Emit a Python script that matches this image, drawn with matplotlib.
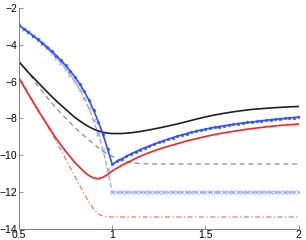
import numpy as np
import matplotlib
matplotlib.use("Agg")
import matplotlib.pyplot as plt

plt.rcParams["font.family"] = ["Liberation Sans", "DejaVu Sans"]

# coarse grid for the unmarked curves
X_COARSE = [0.5, 0.55, 0.6, 0.65, 0.7, 0.75, 0.8, 0.85, 0.875, 0.9, 0.925, 0.95, 0.975,
            1.0, 1.05, 1.1, 1.15, 1.2, 1.25, 1.3, 1.35, 1.4, 1.45, 1.5, 1.55, 1.6,
            1.65, 1.7, 1.75, 1.8, 1.85, 1.9, 1.95, 2.0]

BLACK = [-4.92, -5.50, -6.02, -6.55, -7.05, -7.50, -7.95, -8.30, -8.45, -8.58, -8.68, -8.75, -8.80,
         -8.82, -8.82, -8.78, -8.71, -8.62, -8.52, -8.41, -8.30, -8.17, -8.04, -7.92, -7.81, -7.72,
         -7.64, -7.57, -7.51, -7.47, -7.43, -7.40, -7.37, -7.35]

GRAY = [-4.92, -5.50, -6.20, -6.85, -7.45, -7.98, -8.50, -8.95, -9.17, -9.38, -9.58, -9.78, -9.93,
        -10.05, -10.30, -10.40, -10.45, -10.47, -10.47, -10.47, -10.47, -10.47, -10.47, -10.47,
        -10.47, -10.47, -10.47, -10.47, -10.47, -10.47, -10.47, -10.47, -10.47, -10.47]

RED = [-5.80, -6.68, -7.52, -8.32, -9.10, -9.78, -10.40, -10.90, -11.10, -11.23, -11.27, -11.20, -11.05,
       -10.85, -10.55, -10.30, -10.05, -9.85, -9.67, -9.51, -9.37, -9.22, -9.10, -8.98, -8.87, -8.78,
       -8.70, -8.62, -8.55, -8.49, -8.43, -8.38, -8.34, -8.30]

RED_DASH = [-5.80, -6.62, -7.48, -8.35, -9.25, -10.20, -11.15, -12.10, -12.55, -12.92, -13.18, -13.30, -13.34,
            -13.35, -13.35, -13.35, -13.35, -13.35, -13.35, -13.35, -13.35, -13.35, -13.35, -13.35,
            -13.35, -13.35, -13.35, -13.35, -13.35, -13.35, -13.35, -13.35, -13.35, -13.35]

# fine grid for the marked (blue) curves
X_FINE = [0.5, 0.525, 0.55, 0.575, 0.6, 0.625, 0.65, 0.675, 0.7, 0.725, 0.75, 0.775, 0.8, 0.825,
          0.85, 0.875, 0.9, 0.925, 0.95, 0.975, 1.0, 1.025, 1.05, 1.075, 1.1, 1.125, 1.15, 1.175,
          1.2, 1.225, 1.25, 1.275, 1.3, 1.325, 1.35, 1.375, 1.4, 1.425, 1.45, 1.475, 1.5, 1.525,
          1.55, 1.575, 1.6, 1.625, 1.65, 1.675, 1.7, 1.725, 1.75, 1.775, 1.8, 1.825, 1.85, 1.875,
          1.9, 1.925, 1.95, 1.975, 2.0]

BLUE = [-2.95, -3.13, -3.31, -3.50, -3.70, -3.90, -4.12, -4.35, -4.59, -4.85, -5.12, -5.42, -5.75, -6.12,
        -6.53, -7.00, -7.55, -8.17, -8.85, -9.65, -10.50, -10.33, -10.20, -10.06, -9.93, -9.81, -9.69,
        -9.59, -9.49, -9.39, -9.30, -9.21, -9.12, -9.04, -8.96, -8.89, -8.82, -8.75, -8.69, -8.63,
        -8.58, -8.53, -8.48, -8.44, -8.40, -8.36, -8.32, -8.28, -8.25, -8.22, -8.19, -8.16, -8.13,
        -8.10, -8.07, -8.05, -8.02, -8.00, -7.97, -7.95, -7.92]

BLUE_DASH = [-2.95, -3.14, -3.33, -3.53, -3.74, -3.96, -4.20, -4.45, -4.72, -5.00, -5.30, -5.63, -6.00,
             -6.42, -6.90, -7.45, -8.10, -8.85, -9.70, -10.75, -12.00] + [-12.00] * 40

XTICKS = [0.5, 1, 1.5, 2]
XTICKLABELS = ["0.5", "1", "1.5", "2"]
YTICKS = [-14, -12, -10, -8, -6, -4, -2]

fig = plt.figure(figsize=(3.06, 2.40), dpi=100)
ax = fig.add_axes([0.062, 0.046, 0.914, 0.921])

ax.plot(X_COARSE, GRAY, color="#8c8c8c", ls=(0, (4, 3)), lw=0.9)
ax.plot(X_COARSE, RED_DASH, color="#ff7070", ls=(0, (4, 2, 1, 2)), lw=0.9)
ax.plot(X_FINE, BLUE_DASH, color="#8ea2ff", ls=(0, (4, 2)), lw=0.9,
        marker="x", ms=2.3, mew=0.6)
ax.plot(X_COARSE, BLACK, color="#202020", lw=1.2)
ax.plot(X_COARSE, RED, color="#ff2020", lw=1.2)
ax.plot(X_FINE, BLUE, color="#3050ff", lw=1.2, marker="*", ms=2.5, mew=0.4)

ax.set_xlim(0.5, 2)
ax.set_ylim(-14, -2)
ax.set_xticks(XTICKS)
ax.set_xticklabels(XTICKLABELS)
ax.set_yticks(YTICKS)
ax.tick_params(direction="in", length=3, width=0.6, labelsize=7.5, pad=1.0, color="#808080")
for side in ("top", "right"):
    ax.spines[side].set_visible(False)
for side in ("left", "bottom"):
    ax.spines[side].set_color("#808080")
    ax.spines[side].set_linewidth(0.7)

fig.savefig("out.png", dpi=100)
